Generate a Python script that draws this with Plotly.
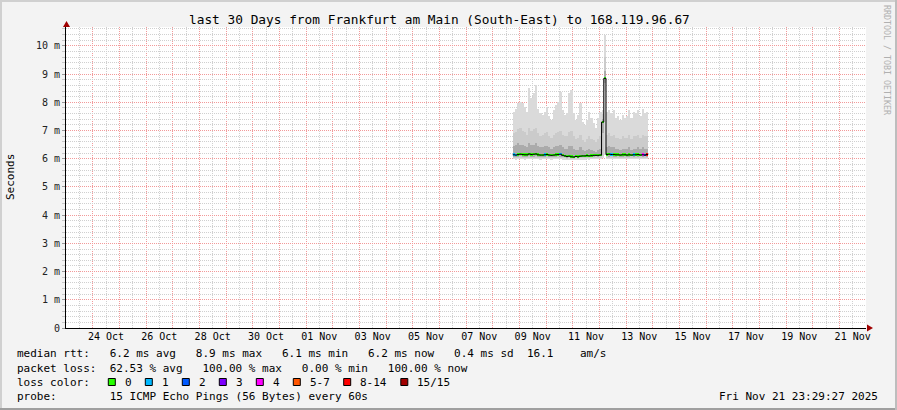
import math
import pandas as pd
import plotly.graph_objects as go

# ---------------- data ----------------
x_range = ["2025-10-23 00:00:00", "2025-11-22 00:00:00"]
first_bin = "2025-11-08 18:00:00"
bin_hours = 2

tick_dates = ["2025-10-24 12:00", "2025-10-26 12:00", "2025-10-28 12:00", "2025-10-30 12:00",
              "2025-11-01 12:00", "2025-11-03 12:00", "2025-11-05 12:00", "2025-11-07 12:00",
              "2025-11-09 12:00", "2025-11-11 12:00", "2025-11-13 12:00", "2025-11-15 12:00",
              "2025-11-17 12:00", "2025-11-19 12:00", "2025-11-21 12:00"]
tick_labels = ["24 Oct", "26 Oct", "28 Oct", "30 Oct", "01 Nov", "03 Nov", "05 Nov", "07 Nov",
               "09 Nov", "11 Nov", "13 Nov", "15 Nov", "17 Nov", "19 Nov", "21 Nov"]

y_tick_values = [0, 1, 2, 3, 4, 5, 6, 7, 8, 9, 10]
y_tick_labels = ["0", "1 m", "2 m", "3 m", "4 m", "5 m", "6 m", "7 m", "8 m", "9 m", "10 m"]

# ping smoke distribution per 2h bin (ms)
smoke_max = [7.67, 7.78, 7.97, 8.02, 7.97, 7.85, 7.67, 8.50, 8.14, 8.32,
             8.62, 7.78, 7.61, 7.55, 7.67, 7.85, 7.50, 7.38, 7.73, 7.91,
             8.02, 8.38, 7.73, 7.55, 7.61, 8.32, 8.44, 7.61, 7.38, 7.55,
             7.97, 7.32, 7.20, 7.38, 7.67, 7.44, 7.26, 7.08, 7.44, 7.67,
             7.73, 10.40, 7.67, 7.73, 7.61, 7.73, 7.44, 7.50, 7.38, 7.55,
             7.44, 7.50, 7.73, 7.44, 7.67, 7.61, 7.73, 7.50, 7.78, 7.61, 7.67]
smoke_q75 = [6.90, 6.95, 7.05, 7.10, 7.00, 6.95, 6.85, 7.10, 7.00, 7.05,
             7.10, 6.90, 6.80, 6.85, 6.90, 6.95, 6.80, 6.75, 6.85, 6.90,
             6.95, 7.00, 6.85, 6.80, 6.80, 6.95, 7.00, 6.80, 6.70, 6.75,
             6.85, 6.65, 6.60, 6.70, 6.80, 6.70, 6.65, 6.60, 6.70, 6.80,
             7.60, 9.60, 6.85, 6.90, 6.80, 6.85, 6.75, 6.75, 6.70, 6.80,
             6.75, 6.75, 6.85, 6.70, 6.80, 6.80, 6.85, 6.75, 6.85, 6.80, 6.80]
smoke_q60 = [6.45, 6.50, 6.55, 6.50, 6.50, 6.45, 6.40, 6.55, 6.50, 6.50,
             6.55, 6.45, 6.40, 6.40, 6.45, 6.45, 6.40, 6.35, 6.40, 6.45,
             6.45, 6.50, 6.40, 6.35, 6.35, 6.45, 6.45, 6.35, 6.30, 6.30,
             6.40, 6.30, 6.28, 6.30, 6.35, 6.30, 6.28, 6.25, 6.30, 6.35,
             7.40, 9.10, 6.40, 6.45, 6.40, 6.40, 6.35, 6.35, 6.30, 6.35,
             6.35, 6.35, 6.40, 6.30, 6.35, 6.35, 6.40, 6.35, 6.40, 6.35, 6.35]
smoke_q40 = [6.07, 6.06, 6.07, 6.08, 6.07, 6.06, 6.07, 6.08, 6.07, 6.07,
             6.08, 6.07, 6.06, 6.07, 6.07, 6.08, 6.07, 6.06, 6.07, 6.07,
             6.08, 6.07, 6.06, 6.05, 6.04, 6.05, 6.04, 6.04, 6.05, 6.04,
             6.05, 6.06, 6.06, 6.07, 6.06, 6.07, 6.07, 6.08, 6.07, 6.08,
             6.90, 8.70, 6.08, 6.07, 6.08, 6.07, 6.07, 6.08, 6.07, 6.07,
             6.08, 6.07, 6.07, 6.08, 6.07, 6.08, 6.07, 6.08, 6.07, 6.08, 6.07]
smoke_q25 = [6.03, 6.02, 6.03, 6.04, 6.03, 6.02, 6.03, 6.04, 6.03, 6.03,
             6.04, 6.03, 6.02, 6.03, 6.03, 6.04, 6.03, 6.02, 6.03, 6.03,
             6.04, 6.03, 6.02, 6.01, 6.00, 6.01, 6.00, 6.00, 6.01, 6.00,
             6.01, 6.02, 6.02, 6.03, 6.02, 6.03, 6.03, 6.04, 6.03, 6.04,
             6.10, 8.40, 6.04, 6.03, 6.04, 6.03, 6.03, 6.04, 6.03, 6.03,
             6.04, 6.03, 6.03, 6.04, 6.03, 6.04, 6.03, 6.04, 6.03, 6.04, 6.03]
smoke_min = [5.98, 5.97, 5.98, 5.99, 5.98, 5.97, 5.98, 5.99, 5.98, 5.98,
             5.99, 5.98, 5.97, 5.98, 5.98, 5.99, 5.98, 5.97, 5.98, 5.98,
             5.99, 5.98, 5.97, 5.96, 5.95, 5.96, 5.95, 5.95, 5.96, 5.95,
             5.96, 5.97, 5.97, 5.98, 5.97, 5.98, 5.98, 5.99, 5.98, 5.99,
             6.02, 6.15, 5.99, 5.98, 5.99, 5.98, 5.98, 5.99, 5.98, 5.98,
             5.99, 5.98, 5.98, 5.99, 5.98, 5.99, 5.98, 5.99, 5.98, 5.99, 5.98]
median_rtt = [6.14, 6.13, 6.15, 6.16, 6.15, 6.14, 6.14, 6.17, 6.15, 6.16,
              6.17, 6.14, 6.13, 6.13, 6.14, 6.15, 6.13, 6.12, 6.13, 6.14,
              6.15, 6.16, 6.12, 6.10, 6.08, 6.09, 6.07, 6.06, 6.08, 6.07,
              6.09, 6.10, 6.10, 6.11, 6.10, 6.11, 6.12, 6.12, 6.12, 6.13,
              7.30, 8.85, 6.15, 6.16, 6.15, 6.15, 6.14, 6.14, 6.13, 6.14,
              6.14, 6.13, 6.14, 6.13, 6.14, 6.14, 6.15, 6.13, 6.14, 6.13, 6.15]
loss_count = [1, 1, 0, 0, 0, 0, 0, 0, 0, 0,
              0, 0, 0, 0, 1, 0, 0, 0, 0, 0,
              0, 1, 0, 0, 0, 0, 0, 0, 0, 0,
              0, 0, 0, 0, 0, 0, 0, 0, 0, 0,
              0, 0, 0, 0, 1, 0, 0, 0, 0, 0,
              0, 0, 0, 0, 1, 0, 0, 0, 4, 2, 8]

loss_labels = ["0", "1", "2", "3", "4", "5-7", "8-14", "15/15"]
loss_upper = [0, 1, 2, 3, 4, 7, 14, 15]
loss_colors = ["#26ff00", "#00b8ff", "#0059ff", "#7e00ff", "#ff00ff", "#ff5500", "#ff0000", "#a10000"]

title_text = "last 30 Days from Frankfurt am Main (South-East) to 168.119.96.67"
stat_lines = [
    "median rtt:   6.2 ms avg   8.9 ms max   6.1 ms min   6.2 ms now   0.4 ms sd  16.1    am/s",
    "packet loss:  62.53 % avg   100.00 % max   0.00 % min   100.00 % now",
]
legend_prefix = "loss color:"
probe_text = "probe:        15 ICMP Echo Pings (56 Bytes) every 60s"
stamp_text = "Fri Nov 21 23:29:27 2025"
credit_text = "RRDTOOL / TOBI OETIKER"

# ---------------- layout geometry ----------------
FW, FH = 897, 410
L, T, W, H = 66, 27, 800, 301
MONO = "DejaVu Sans Mono"


def fx(px):
    return (px - L) / W


def fy(py):
    return (T + H - py) / H


def nb(s):
    return s.replace(" ", "\u00a0")


bins = pd.date_range(first_bin, periods=len(median_rtt), freq=f"{bin_hours}h")
centers = bins + pd.Timedelta(hours=bin_hours / 2)
bin_ms = bin_hours * 3600 * 1000

fig = go.Figure()


def band(lo, hi, color):
    fig.add_trace(go.Bar(
        x=centers, y=[h - l for l, h in zip(lo, hi)], base=lo, width=bin_ms,
        marker=dict(color=color, line=dict(width=0)), hoverinfo="skip", showlegend=False))


band(smoke_min, smoke_max, "#dadada")
band(smoke_q25, smoke_q75, "#cbcbcb")
band(smoke_q40, smoke_q60, "#ababab")

# median line (black connectors)
med_x = list(bins) + [bins[-1] + pd.Timedelta(hours=bin_hours)]
med_y = list(median_rtt) + [median_rtt[-1]]
fig.add_trace(go.Scatter(x=med_x, y=med_y, mode="lines", line=dict(color="#000000", width=1, shape="hv"),
                         hoverinfo="skip", showlegend=False))


def bucket(c):
    for k, u in enumerate(loss_upper):
        if c <= u:
            return k
    return len(loss_upper) - 1


seg_colors = [loss_colors[bucket(c)] for c in loss_count]
fig.add_trace(go.Bar(
    x=centers, y=[0.085] * len(median_rtt), base=[m - 0.035 for m in median_rtt], width=bin_ms,
    marker=dict(color=seg_colors, line=dict(width=0)), hoverinfo="skip", showlegend=False))

# invisible anchor for the label overlay axis
fig.add_trace(go.Scatter(x=[x_range[0]], y=[0], xaxis="x2", mode="markers",
                         marker=dict(opacity=0), hoverinfo="skip", showlegend=False))

GRID_GREY = "#d0d0d0"
GRID_RED = "#f29a9a"

fig.update_layout(
    width=FW, height=FH,
    margin=dict(l=L, r=FW - L - W, t=T, b=FH - T - H),
    paper_bgcolor="#f3f3f3", plot_bgcolor="#ffffff",
    barmode="overlay", bargap=0, hovermode=False,
    font=dict(family=MONO, size=10, color="#000000"),
    xaxis=dict(type="date", range=x_range, showticklabels=False, ticks="", showgrid=False,
               zeroline=False, showline=True, linecolor="#000000", linewidth=1),
    xaxis2=dict(type="date", range=x_range, overlaying="x", side="bottom",
                tickmode="array", tickvals=tick_dates, ticktext=tick_labels,
                showgrid=False, zeroline=False, showline=False, ticks="", ticklabelstandoff=1,
                tickfont=dict(family=MONO, size=10, color="#000000")),
    yaxis=dict(range=[0, 10.67], tickmode="array", tickvals=y_tick_values, ticktext=y_tick_labels,
               showgrid=True, gridcolor=GRID_RED, griddash="1px,1px", gridwidth=1,
               zeroline=False, showline=True, linecolor="#000000", linewidth=1,
               ticks="outside", ticklen=3, tickcolor="#999999",
               tickfont=dict(family=MONO, size=10, color="#222222"),
               minor=dict(tick0=0, dtick=0.2, showgrid=True, gridcolor=GRID_GREY, griddash="1px,1px",
                          ticks="outside", ticklen=3, tickcolor="#c8c8c8")),
)

shapes = []
# vertical time grid: grey every 12 h, red at midnight, snapped to pixel centres
t0 = pd.Timestamp(x_range[0])
t1 = pd.Timestamp(x_range[1])
for t in pd.date_range(t0, t1, freq="12h")[1:-1]:
    frac = (t - t0) / (t1 - t0)
    px = math.floor(L + frac * W) + 0.5
    col = GRID_RED if t.hour == 0 else GRID_GREY
    shapes.append(dict(type="line", xref="paper", yref="paper", x0=fx(px), x1=fx(px), y0=0, y1=1,
                       layer="below", line=dict(color=col, width=1, dash="1px,1px")))

ann = []
ann.append(dict(x=fx(439), y=fy(19), text=nb(title_text), xanchor="center", yanchor="middle",
                font=dict(family=MONO, size=12.8, color="#000000")))
ann.append(dict(x=fx(10), y=fy(177), text="Seconds", textangle=-90, xanchor="center", yanchor="middle",
                font=dict(family=MONO, size=11, color="#000000")))
ann.append(dict(x=fx(887), y=fy(60), text=nb(credit_text), textangle=90, xanchor="center", yanchor="middle",
                font=dict(family=MONO, size=8.3, color="#b0b0b0")))
line_y = [354, 368, 382, 396.5]
for k, s in enumerate(stat_lines):
    ann.append(dict(x=fx(15), y=fy(line_y[k]), text=nb(s), xanchor="left", yanchor="middle",
                    font=dict(family=MONO, size=11, color="#000000")))
ann.append(dict(x=fx(15), y=fy(line_y[2]), text=nb(legend_prefix), xanchor="left", yanchor="middle",
                font=dict(family=MONO, size=11, color="#000000")))
ann.append(dict(x=fx(15), y=fy(line_y[3]), text=nb(probe_text), xanchor="left", yanchor="middle",
                font=dict(family=MONO, size=11, color="#000000")))
ann.append(dict(x=fx(880), y=fy(line_y[3]), text=nb(stamp_text), xanchor="right", yanchor="middle",
                font=dict(family=MONO, size=11, color="#000000")))

bx = 108.3
for lab, col in zip(loss_labels, loss_colors):
    shapes.append(dict(type="rect", xref="paper", yref="paper",
                       x0=fx(bx), x1=fx(bx + 7), y0=fy(line_y[2] + 3.5), y1=fy(line_y[2] - 3.5),
                       fillcolor=col, line=dict(color="#000000", width=1)))
    ann.append(dict(x=fx(bx + 14.5), y=fy(line_y[2]), text=nb(lab), xanchor="left", yanchor="middle",
                    font=dict(family=MONO, size=11, color="#000000")))
    bx += 30.3 + 6.7 * len(lab)

# arrows at axis ends
ARROW = "#a00000"
shapes.append(dict(type="path", xref="paper", yref="paper", fillcolor=ARROW, line=dict(color=ARROW, width=0),
                   path=f"M {fx(63)},{fy(27)} L {fx(70)},{fy(27)} L {fx(66.5)},{fy(21)} Z"))
shapes.append(dict(type="path", xref="paper", yref="paper", fillcolor=ARROW, line=dict(color=ARROW, width=0),
                   path=f"M {fx(867)},{fy(324.5)} L {fx(867)},{fy(331.5)} L {fx(873)},{fy(328)} Z"))
# frame
shapes.append(dict(type="line", xref="paper", yref="paper", x0=fx(0), x1=fx(FW), y0=fy(1), y1=fy(1),
                   line=dict(color="#d0d0d0", width=2)))
shapes.append(dict(type="line", xref="paper", yref="paper", x0=fx(1), x1=fx(1), y0=fy(0), y1=fy(FH),
                   line=dict(color="#d0d0d0", width=2)))
shapes.append(dict(type="line", xref="paper", yref="paper", x0=fx(0), x1=fx(FW), y0=fy(FH - 1), y1=fy(FH - 1),
                   line=dict(color="#9f9f9f", width=2)))
shapes.append(dict(type="line", xref="paper", yref="paper", x0=fx(FW - 1), x1=fx(FW - 1), y0=fy(0), y1=fy(FH),
                   line=dict(color="#bdbdbd", width=2)))

for a in ann:
    a.setdefault("xref", "paper")
    a.setdefault("yref", "paper")
    a["showarrow"] = False
fig.update_layout(annotations=ann, shapes=shapes)

fig.write_html("out.html", config={"displayModeBar": False},
               post_script="document.body.style.margin='0px';document.body.style.padding='0px';")
